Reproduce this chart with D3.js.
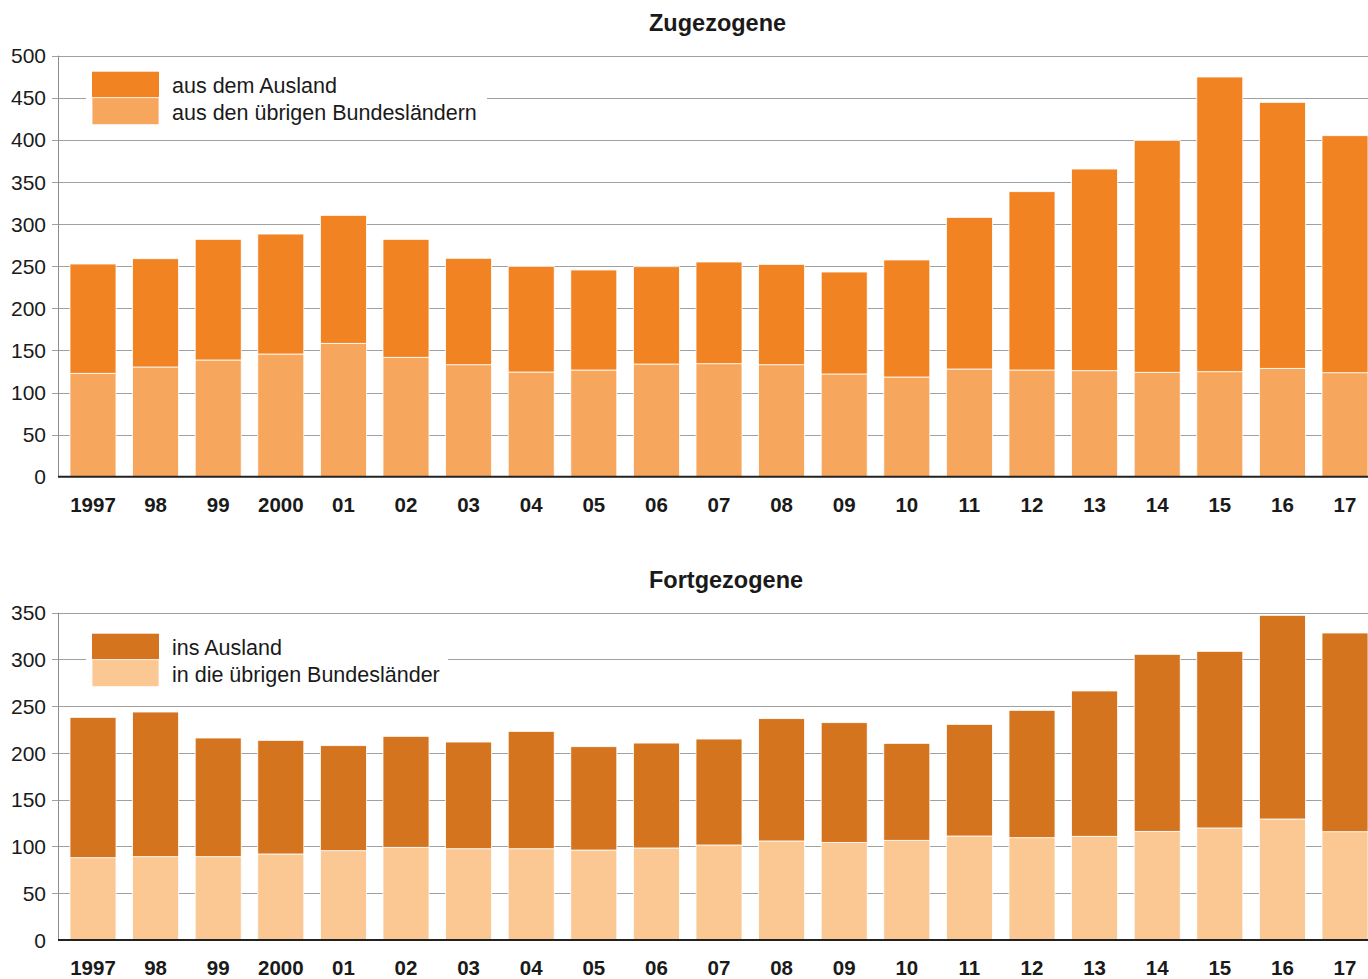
<!DOCTYPE html>
<html>
<head>
  <meta charset="utf-8">
  <style>
    body { margin: 0; background: #fff; }
    svg text { font-family: "Liberation Sans", Arial, sans-serif; fill: #1a1a1a; }
    svg .grid line { stroke: #a0a0a0; stroke-width: 1px; }
    svg .ylab text { font-size: 21px; }
    svg .xlab text { font-size: 20.5px; font-weight: bold; }
    svg .title { font-size: 23.5px; font-weight: bold; }
    svg .legend text { font-size: 21.5px; }
  </style>
</head>
<body>
<script src="https://cdn.jsdelivr.net/npm/d3@7"></script>
<script>
  // categories (years)
  var years = ["1997", "98", "99", "2000", "01", "02", "03", "04", "05", "06", "07",
               "08", "09", "10", "11", "12", "13", "14", "15", "16", "17"];

  // Zugezogene (in 1000)
  var zuLaender = [122.8, 130.3, 138.6, 145.7, 158.4, 141.8, 133.0, 124.3, 126.7, 133.8, 134.2,
                   133.0, 122.0, 118.4, 127.9, 126.7, 125.9, 124.0, 124.7, 128.7, 123.5];
  var zuAusland = [129.8, 128.6, 143.3, 142.5, 152.0, 140.1, 126.4, 125.6, 118.8, 115.6, 120.8,
                   119.2, 121.1, 139.0, 180.1, 211.8, 239.5, 275.5, 350.0, 315.9, 281.5];

  // Fortgezogene (in 1000)
  var fortLaender = [88.0, 89.1, 89.1, 92.0, 95.5, 99.1, 97.6, 97.6, 96.2, 98.4, 101.6,
                     105.9, 104.4, 106.6, 111.2, 109.4, 110.9, 116.2, 119.8, 129.4, 115.8];
  var fortAusland = [150.1, 154.7, 126.9, 121.5, 112.3, 118.7, 114.1, 125.5, 110.5, 112.2, 113.3,
                     130.8, 128.0, 103.7, 119.4, 136.2, 155.4, 189.3, 188.9, 217.8, 212.5];

  var zuTicks = [0, 50, 100, 150, 200, 250, 300, 350, 400, 450, 500];
  var fortTicks = [0, 50, 100, 150, 200, 250, 300, 350];

  var W = 1368, H = 979;
  var axisX = 58;

  var svg = d3.select("body").append("svg")
      .attr("width", W)
      .attr("height", H);

  var x = d3.scaleBand()
      .domain(years)
      .range([61.7, 61.7 + 62.6 * years.length])
      .paddingInner(0.265)
      .paddingOuter(0.1325);

  function panel(cfg) {
    var y = d3.scaleLinear().domain([0, cfg.max]).range([cfg.bottom, cfg.top]);
    var g = svg.append("g");

    // horizontal grid lines
    g.append("g").attr("class", "grid")
      .selectAll("line").data(cfg.ticks.filter(function (d) { return d > 0; }))
      .join("line")
        .attr("x1", axisX - 6).attr("x2", W)
        .attr("y1", function (d) { return Math.round(y(d)) + 0.5; })
        .attr("y2", function (d) { return Math.round(y(d)) + 0.5; });

    // y tick labels
    g.append("g").attr("class", "ylab")
      .selectAll("text").data(cfg.ticks)
      .join("text")
        .attr("x", axisX - 12)
        .attr("y", function (d) { return y(d); })
        .attr("dy", "0.36em")
        .attr("text-anchor", "end")
        .text(function (d) { return d; });

    // legend background (hides grid lines)
    var lg = g.append("g").attr("class", "legend")
      .attr("transform", "translate(86," + (cfg.top + cfg.legendDy) + ")");
    lg.append("rect")
      .attr("width", cfg.legendW).attr("height", 66)
      .attr("fill", "#fff");

    // stacked bars
    var stack = years.map(function (yr, i) {
      return { year: yr, low: cfg.low[i], high: cfg.high[i] };
    });
    var bars = g.append("g").selectAll("g").data(stack).join("g");
    bars.append("rect")
      .attr("x", function (d) { return x(d.year); })
      .attr("width", x.bandwidth())
      .attr("y", function (d) { return y(d.low); })
      .attr("height", function (d) { return y(0) - y(d.low); })
      .attr("fill", cfg.colLow)
      .attr("stroke", "#fff").attr("stroke-width", 0.8);
    bars.append("rect")
      .attr("x", function (d) { return x(d.year); })
      .attr("width", x.bandwidth())
      .attr("y", function (d) { return y(d.low + d.high); })
      .attr("height", function (d) { return y(d.low) - y(d.low + d.high); })
      .attr("fill", cfg.colHigh)
      .attr("stroke", "#fff").attr("stroke-width", 0.8);

    // y axis line
    g.append("line")
      .attr("x1", axisX + 0.5).attr("x2", axisX + 0.5)
      .attr("y1", y(cfg.max)).attr("y2", y(0))
      .style("stroke", "#8c8c8c").style("stroke-width", "1px");
    // baseline
    g.append("line")
      .attr("x1", axisX).attr("x2", W)
      .attr("y1", y(0)).attr("y2", y(0))
      .style("stroke", "#222").style("stroke-width", "2px");

    // x labels
    g.append("g").attr("class", "xlab")
      .selectAll("text").data(years)
      .join("text")
        .attr("x", function (d) { return x(d) + x.bandwidth() / 2; })
        .attr("y", y(0) + 35)
        .attr("text-anchor", "middle")
        .text(function (d) { return d; });

    // title
    g.append("text").attr("class", "title")
      .attr("x", 649).attr("y", cfg.titleY)
      .text(cfg.title);

    // legend
    lg.append("rect").attr("x", 6).attr("y", 6).attr("width", 67).attr("height", 26)
      .attr("fill", cfg.colHigh);
    lg.append("rect").attr("x", 6).attr("y", 32).attr("width", 67).attr("height", 27)
      .attr("fill", cfg.colLow).attr("stroke", "#fff").attr("stroke-width", 0.8);
    lg.append("text").attr("x", 86).attr("y", 27).text(cfg.legend[0]);
    lg.append("text").attr("x", 86).attr("y", 54).text(cfg.legend[1]);
  }

  panel({
    title: "Zugezogene", titleY: 31,
    max: 500, ticks: zuTicks, top: 55.7, bottom: 476.7,
    low: zuLaender, high: zuAusland,
    colLow: "#f7a65e", colHigh: "#f28323",
    legend: ["aus dem Ausland", "aus den übrigen Bundesländern"], legendW: 401, legendDy: 10
  });

  panel({
    title: "Fortgezogene", titleY: 588,
    max: 350, ticks: fortTicks, top: 612.7, bottom: 940,
    low: fortLaender, high: fortAusland,
    colLow: "#fbc792", colHigh: "#d4741e",
    legend: ["ins Ausland", "in die übrigen Bundesländer"], legendW: 362, legendDy: 15
  });
</script>
</body>
</html>
